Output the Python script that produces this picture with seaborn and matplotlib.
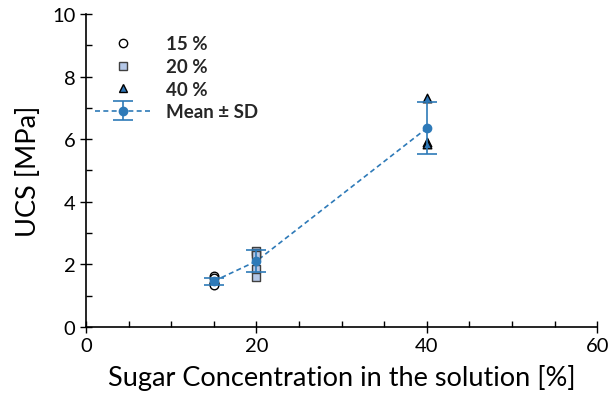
import numpy as np
import pandas as pd
import matplotlib
matplotlib.use("Agg")
import matplotlib.pyplot as plt
from matplotlib.lines import Line2D
from matplotlib.legend_handler import HandlerTuple
from matplotlib.ticker import MultipleLocator
import seaborn as sns

# UCS measurements [MPa] for each sugar concentration [%]
ucs_15 = [1.62, 1.55, 1.42, 1.38, 1.35]
ucs_20 = [2.42, 2.35, 2.30, 1.85, 1.60]
ucs_40 = [7.30, 5.90, 5.85]
groups = ["15 %", "20 %", "40 %"]
concentrations = [15, 20, 40]

sns.set_theme(style="ticks")
plt.rcParams["font.family"] = ["Lato", "DejaVu Sans"]

records = []
for name, conc, vals in zip(groups, concentrations, [ucs_15, ucs_20, ucs_40]):
    for v in vals:
        records.append({"group": name, "conc": conc, "ucs": v})
df = pd.DataFrame(records)

stats = df.groupby("conc")["ucs"].agg(["mean", "std"]).reset_index()

fig = plt.figure(figsize=(6.08, 4.02), dpi=100)
ax = fig.add_axes([0.1414, 0.184, 0.841, 0.779])

mean_color = "#2e7ab8"

# dashed trend through the group means
sns.lineplot(data=stats, x="conc", y="mean", ax=ax, color=mean_color,
             ls=(0, (3, 2)), lw=1.2, legend=False)

# individual specimens
styles = {
    "15 %": dict(marker="o", facecolor="white", edgecolor="black"),
    "20 %": dict(marker="s", facecolor="#b4c7e7", edgecolor="#404040"),
    "40 %": dict(marker="^", facecolor="#2e75b6", edgecolor="black"),
}
handles = []
for name in groups:
    st = styles[name]
    sub = df[df["group"] == name]
    sns.scatterplot(data=sub, x="conc", y="ucs", marker=st["marker"], s=38,
                    color=st["facecolor"], edgecolor=st["edgecolor"],
                    linewidth=1.0, ax=ax, zorder=3, legend=False)
    handles.append(Line2D([], [], ls="none", marker=st["marker"], markersize=6,
                          markerfacecolor=st["facecolor"],
                          markeredgecolor=st["edgecolor"]))

# mean ± standard deviation
eb = ax.errorbar(stats["conc"], stats["mean"], yerr=stats["std"], fmt="o",
                 color=mean_color, ms=6, capsize=7, elinewidth=1.2,
                 capthick=1.2, zorder=4)
dash = Line2D([], [], color=mean_color, ls=(0, (3, 2)), lw=1.2)
handles.append((dash, eb))

leg = ax.legend(handles, groups + ["Mean ± SD"], loc="upper left",
                bbox_to_anchor=(-0.015, 0.985), frameon=False, handlelength=3.0,
                handletextpad=0.8, labelspacing=0.3,
                handler_map={tuple: HandlerTuple(ndivide=1)},
                prop={"weight": "bold", "size": 13.5})

ax.set_xlim(0, 60)
ax.set_ylim(0, 10)
ax.xaxis.set_major_locator(MultipleLocator(20))
ax.xaxis.set_minor_locator(MultipleLocator(5))
ax.yaxis.set_major_locator(MultipleLocator(2))
ax.yaxis.set_minor_locator(MultipleLocator(1))
ax.tick_params(which="major", direction="inout", length=9, width=1,
               labelsize=14.5, color="black", labelcolor="black", pad=3)
ax.tick_params(which="minor", direction="in", length=4.5, width=1,
               color="black")
for side in ["left", "bottom"]:
    ax.spines[side].set_color("black")
    ax.spines[side].set_linewidth(1.2)
sns.despine(ax=ax)

ax.set_xlabel("Sugar Concentration in the solution [%]", fontsize=19.5,
              labelpad=7, color="black")
ax.set_ylabel("UCS [MPa]", fontsize=19.5, labelpad=8, color="black")

fig.savefig("out.png", dpi=100)
